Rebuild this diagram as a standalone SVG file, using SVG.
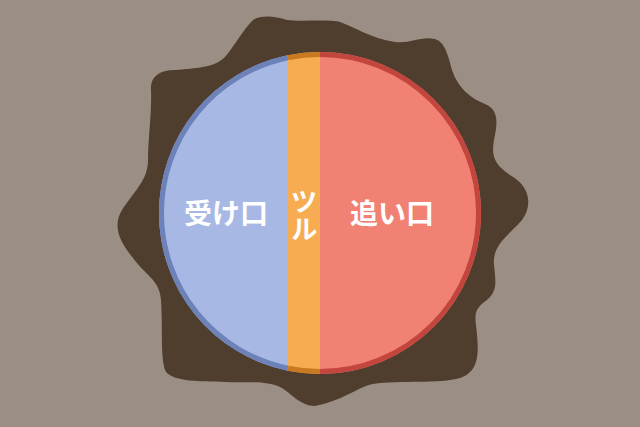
<svg xmlns="http://www.w3.org/2000/svg" width="640" height="427" viewBox="0 0 640 427">
<style>
.lbl{font-family:"Noto Sans CJK JP","Noto Sans",sans-serif;font-weight:bold;font-size:28px;fill:#ffffff;text-anchor:middle}
.vert{font-family:"Noto Sans CJK JP","Noto Sans",sans-serif;font-weight:bold;font-size:27px;fill:#ffffff;writing-mode:vertical-rl}
.edge{fill:none;stroke-width:5}
</style>
<rect width="640" height="427" fill="#9b8f85"/>
<g id="stump">
<path fill="#4f3d2e" d="M253,20 C260,15 275,16 287,20 C300,22 330,19 340,22 C355,27 370,38 395,42 C410,44 420,36 435,39 C445,42 448,55 452,70 C458,88 470,98 485,104 C500,110 497,125 494,140 C491,157 495,165 510,175 C530,186 533,205 522,220 C508,236 492,245 494,265 C496,285 498,292 483,303 C472,312 476,320 477,335 C479,355 478,372 460,378 C440,384 400,380 373,384 C355,388 345,400 315,406 C300,406 290,392 280,387 C265,380 245,383 225,382 C200,381 175,382 166,372 C160,360 163,330 161,300 C160,280 145,275 133,258 C118,240 113,225 122,210 C135,190 148,180 148,160 C148,140 152,110 151,90 C150,78 158,70 175,70 C200,68 215,67 225,57 C235,45 243,30 253,20 Z"/>
</g>
<g id="receiving-cut">
<path fill="#a7b8e4" d="M288,55.21 A161,161 0 0 0 288,370.79 Z"/>
<path class="edge" stroke="#6c82b8" d="M288,57.76 A158.5,158.5 0 0 0 288,368.24"/>
<text class="lbl" x="226" y="224">受け口</text>
</g>
<g id="hinge">
<path fill="#f8ac52" d="M288,55.21 L288,370.79 A161,161 0 0 0 320,374 L320,52 A161,161 0 0 0 288,55.21 Z"/>
<path class="edge" stroke="#c97a20" d="M288,57.76 A158.5,158.5 0 0 1 320,54.5 M288,368.24 A158.5,158.5 0 0 0 320,371.5"/>
<text class="vert" x="304" y="188">ツル</text>
</g>
<g id="felling-cut">
<path fill="#f18173" d="M320,52 A161,161 0 0 1 320,374 Z"/>
<path class="edge" stroke="#c2463e" d="M320,54.5 A158.5,158.5 0 0 1 320,371.5"/>
<text class="lbl" x="392" y="224">追い口</text>
</g>
</svg>
